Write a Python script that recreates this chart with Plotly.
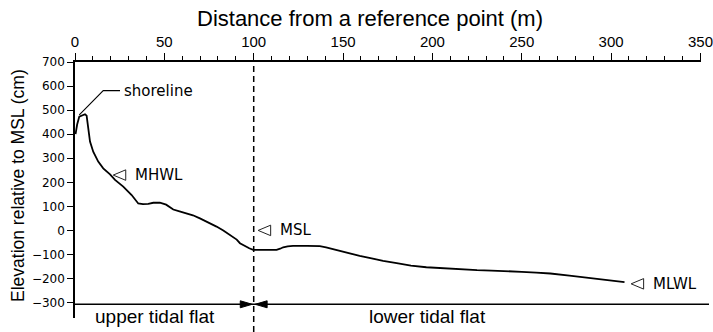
import plotly.graph_objects as go

# Beach profile: distance (m) vs elevation relative to MSL (cm)
distance_m = [0.3, 1.2, 2.4, 3.7, 5.0, 5.6, 6.5, 6.9, 7.4, 8.4, 10.2, 13.0, 15.8,
              19.6, 22.4, 27.0, 31.7, 35.4, 38.0, 41.0, 43.8, 47.5, 51.0, 55.0,
              58.5, 62.4, 66.0, 69.9, 75.0, 79.2, 83.0, 86.0, 88.5, 90.5, 92.3,
              95.0, 97.5, 99.7, 104.0, 108.0, 112.8, 114.8, 116.5, 119.0, 122.0,
              130.0, 137.0, 140.5, 144.4, 149.0, 153.8, 159.3, 166.0, 172.4,
              180.0, 188.0, 196.6, 205.0, 215.3, 225.0, 233.0, 241.4, 250.0,
              258.1, 266.0, 276.7, 284.0, 291.7, 299.0, 307.5]
elevation_cm = [400, 440, 473, 478, 482, 483, 477, 452, 410, 369, 327, 286, 258,
                233, 210, 182, 147, 112, 109, 110, 115, 115, 107, 87,
                79, 71, 63, 50, 33, 16, 0, -15, -26, -38, -53,
                -65, -74, -81, -82, -82, -81, -76, -70, -66, -64,
                -64, -65, -70, -78, -88, -96, -106, -116, -127,
                -136, -146, -153, -157, -161, -165, -167, -171, -172,
                -175, -179, -188, -194, -202, -207, -215]

# Reference water levels: name, distance (m), elevation (cm)
level_names = ["MHWL", "MSL", "MLWL"]
level_x = [21.4, 102.5, 311.2]
level_y = [230, 0, -222]

# Axis ticks
x_ticks = [0, 50, 100, 150, 200, 250, 300, 350]
y_ticks = [-300, -200, -100, 0, 100, 200, 300, 400, 500, 600, 700]

# Zone boundary and labels
boundary_x = 100
zone_y = -307
zone_names = ["upper tidal flat", "lower tidal flat"]
zone_label_x = [45, 197]

# Shoreline leader line (m, cm)
shore_leader_x = [25.2, 15.8, 2.4]
shore_leader_y = [581, 581, 480]

W, H = 713, 332
ML, MR, MT, MB = 75, 12, 62, 14
XR = [0, 350.3]
YR = [-364, 700]
plot_w = W - ML - MR
plot_h = H - MT - MB
px_x = plot_w / (XR[1] - XR[0])   # pixels per metre
px_y = plot_h / (YR[1] - YR[0])   # pixels per cm

LABEL_FONT = "DejaVu Sans"
MAIN_FONT = "Liberation Sans, Arial, sans-serif"

fig = go.Figure()

fig.add_trace(go.Scatter(
    x=distance_m, y=elevation_cm, mode="lines",
    line=dict(color="black", width=1.8), hoverinfo="skip", showlegend=False))

fig.add_trace(go.Scatter(
    x=shore_leader_x, y=shore_leader_y, mode="lines",
    line=dict(color="black", width=1.1), hoverinfo="skip", showlegend=False))

shapes = []

# dashed boundary between upper and lower tidal flat
bx_paper = (boundary_x - XR[0]) / (XR[1] - XR[0])
shapes.append(dict(type="line", xref="paper", yref="paper",
                   x0=bx_paper, x1=bx_paper,
                   y0=-MB / plot_h, y1=1,
                   line=dict(color="black", width=1.5, dash="6px,4px")))

# horizontal zone line
shapes.append(dict(type="line", xref="paper", yref="y",
                   x0=0, x1=1 + 8 / plot_w, y0=zone_y, y1=zone_y,
                   line=dict(color="black", width=1.4)))


def tri_path(tip_x, tip_y, length_px, height_px, direction):
    dx = length_px / px_x * (1 if direction == "left" else -1)
    dy = height_px / 2 / px_y
    return (f"M {tip_x},{tip_y} L {tip_x + dx},{tip_y + dy} "
            f"L {tip_x + dx},{tip_y - dy} Z")


# filled arrowheads meeting at the boundary
shapes.append(dict(type="path", xref="x", yref="y",
                   path=tri_path(boundary_x - 0.8, zone_y, 12, 7, "right"),
                   fillcolor="black", line=dict(color="black", width=1)))
shapes.append(dict(type="path", xref="x", yref="y",
                   path=tri_path(boundary_x + 0.8, zone_y, 12, 7, "left"),
                   fillcolor="black", line=dict(color="black", width=1)))

# open triangles marking water levels
for lx, ly in zip(level_x, level_y):
    shapes.append(dict(type="path", xref="x", yref="y",
                       path=tri_path(lx, ly, 12.5, 10.5, "left"),
                       fillcolor="rgba(0,0,0,0)",
                       line=dict(color="#222", width=1)))

annotations = []
for name, lx, ly in zip(level_names, level_x, level_y):
    annotations.append(dict(x=lx, y=ly, xref="x", yref="y", text=name,
                            showarrow=False, xanchor="left", yanchor="middle",
                            xshift=20, font=dict(family=LABEL_FONT, size=15,
                                                 color="black")))

annotations.append(dict(x=shore_leader_x[0], y=shore_leader_y[0], xref="x", yref="y",
                        text="shoreline", showarrow=False, xanchor="left",
                        yanchor="middle", xshift=2,
                        font=dict(family=LABEL_FONT, size=15, color="black")))

for name, zx in zip(zone_names, zone_label_x):
    annotations.append(dict(x=zx, y=(H - 316 - MB) / plot_h,
                            xref="x", yref="paper", text=name, showarrow=False,
                            xanchor="center", yanchor="middle",
                            font=dict(family=MAIN_FONT, size=19, color="black")))

# axis titles
annotations.append(dict(x=(370 - ML) / plot_w, y=1 + (MT - 18) / plot_h,
                        xref="paper", yref="paper",
                        text="Distance from a reference point (m)",
                        showarrow=False, xanchor="center", yanchor="middle",
                        font=dict(family=MAIN_FONT, size=22, color="black")))
annotations.append(dict(x=(18 - ML) / plot_w, y=(H - MB - 186) / plot_h,
                        xref="paper", yref="paper",
                        text="Elevation relative to MSL (cm)", textangle=-90,
                        showarrow=False, xanchor="center", yanchor="middle",
                        font=dict(family=MAIN_FONT, size=17.5, color="black")))

fig.update_layout(
    width=W, height=H,
    margin=dict(l=ML, r=MR, t=MT, b=MB, pad=0, autoexpand=False),
    paper_bgcolor="white", plot_bgcolor="white",
    showlegend=False,
    shapes=shapes, annotations=annotations,
    xaxis=dict(side="top", range=XR, tickmode="array", tickvals=x_ticks,
               automargin=False,
               ticks="outside", ticklen=7, tickwidth=1.3, tickcolor="black",
               minor=dict(tick0=0, dtick=10, ticks="outside", ticklen=4.5,
                          tickwidth=1.3, tickcolor="black"),
               showline=True, linecolor="black", linewidth=1.5,
               showgrid=False, zeroline=False,
               tickfont=dict(family=MAIN_FONT, size=15, color="black")),
    yaxis=dict(range=YR, tickmode="array", tickvals=y_ticks,
               automargin=False,
               ticks="outside", ticklen=6, tickwidth=1.3, tickcolor="black",
               showline=True, linecolor="black", linewidth=1.5,
               showgrid=False, zeroline=False,
               tickfont=dict(family=LABEL_FONT, size=12, color="black")),
)

fig.write_html("out.html")
